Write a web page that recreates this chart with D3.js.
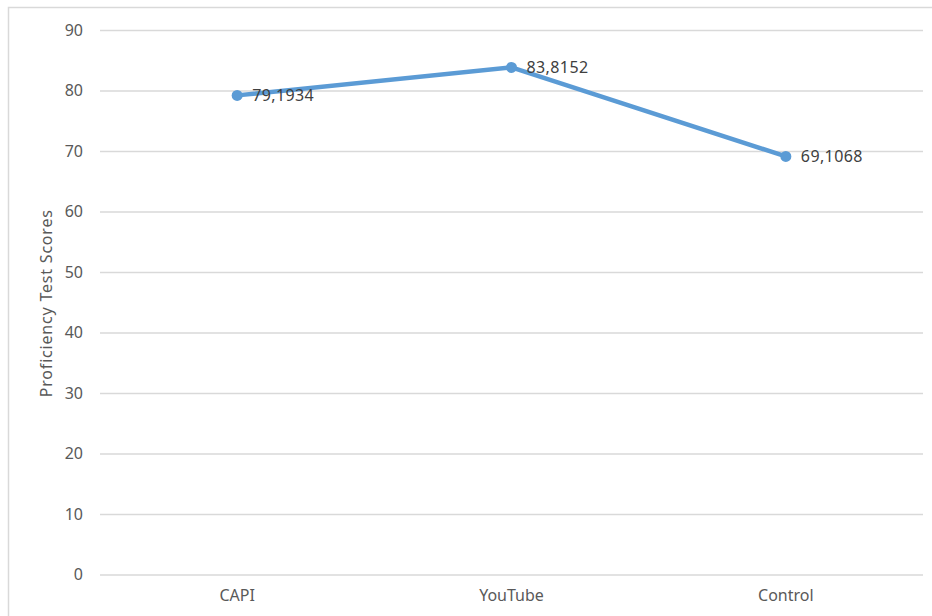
<!DOCTYPE html>
<html>
<head>
<meta charset="utf-8">
<script src="https://cdn.jsdelivr.net/npm/d3@7"></script>
<style>
  body { margin: 0; background: #fff; }
  svg text { font-family: "Noto Sans", "Open Sans", sans-serif; }
</style>
</head>
<body>
<div id="chart"></div>
<script>
!function () {
  'use strict';

  var categories = ["CAPI", "YouTube", "Control"];
  var scores = [79.1934, 83.8152, 69.1068];
  var yTicks = [0, 10, 20, 30, 40, 50, 60, 70, 80, 90];

  var width = 932, height = 616;
  var plot = { left: 100, right: 923, top: 30, bottom: 574.5 };

  var svg = d3.select("#chart").append("svg")
    .attr("width", width)
    .attr("height", height);

  // outer chart frame (runs off the right and bottom edges)
  svg.append("rect")
    .attr("x", 8.5).attr("y", 7.5)
    .attr("width", 940).attr("height", 640)
    .attr("fill", "#fff")
    .attr("stroke", "#d9d9d9")
    .attr("stroke-width", 1.5);

  var x = d3.scaleBand()
    .domain(categories)
    .range([plot.left, plot.right]);

  var y = d3.scaleLinear()
    .domain([0, 90])
    .range([plot.bottom, plot.top]);

  // gridlines
  svg.append("g")
    .attr("transform", "translate(" + plot.left + ",0)")
    .call(d3.axisLeft(y).tickValues(yTicks)
      .tickSize(-(plot.right - plot.left)).tickFormat(""))
    .call(function (g) { g.select(".domain").remove(); })
    .selectAll("line")
      .attr("stroke", "#d9d9d9")
      .attr("stroke-width", 1.5);

  // y tick labels
  svg.append("g")
    .attr("transform", "translate(" + plot.left + ",0)")
    .call(d3.axisLeft(y).tickValues(yTicks).tickSize(0).tickPadding(17))
    .call(function (g) {
      g.select(".domain").remove();
      g.selectAll("text")
        .attr("fill", "#595959")
        .style("font-size", "16px");
    });

  // x axis labels
  svg.append("g")
    .attr("transform", "translate(0," + plot.bottom + ")")
    .call(d3.axisBottom(x).tickSize(0).tickPadding(15))
    .call(function (g) {
      g.select(".domain").remove();
      g.selectAll("text")
        .attr("fill", "#595959")
        .style("font-size", "16px");
    });

  // y axis title
  svg.append("text")
    .attr("transform", "translate(52," + ((plot.top + plot.bottom) / 2 + 1) + ") rotate(-90)")
    .attr("text-anchor", "middle")
    .attr("fill", "#595959")
    .style("font-size", "16px")
    .style("letter-spacing", "0.8px")
    .text("Proficiency Test Scores");

  var data = categories.map(function (c, i) { return { cat: c, v: scores[i] }; });
  var cx = function (d) { return x(d.cat) + x.bandwidth() / 2; };

  svg.append("path")
    .datum(data)
    .attr("fill", "none")
    .attr("stroke", "#5b9bd5")
    .attr("stroke-width", 4.5)
    .attr("stroke-linejoin", "round")
    .attr("d", d3.line().x(cx).y(function (d) { return y(d.v); }));

  svg.selectAll("circle.node")
    .data(data)
    .enter().append("circle")
    .attr("class", "node")
    .attr("cx", cx)
    .attr("cy", function (d) { return y(d.v); })
    .attr("r", 5.5)
    .attr("fill", "#5b9bd5");

  var fmt = function (v) { return String(v).replace(".", ","); };

  svg.selectAll("text.lbl")
    .data(data)
    .enter().append("text")
    .attr("class", "lbl")
    .attr("x", function (d) { return cx(d) + 15; })
    .attr("y", function (d) { return y(d.v); })
    .attr("dy", "0.35em")
    .attr("fill", "#404040")
    .style("font-size", "16px")
    .style("letter-spacing", "0.4px")
    .text(function (d) { return fmt(d.v); });

}();
</script>
</body>
</html>
